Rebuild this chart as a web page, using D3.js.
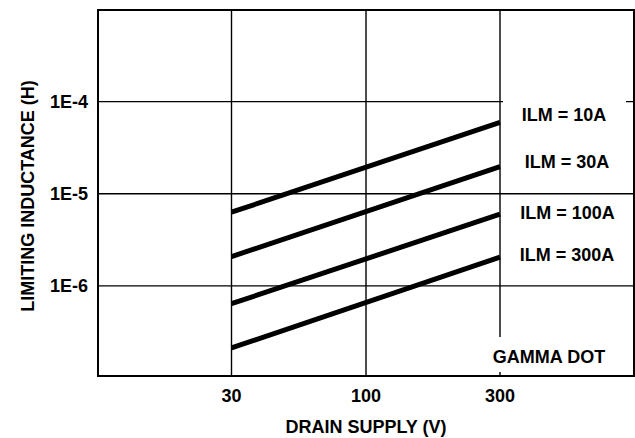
<!DOCTYPE html>
<html>
<head>
<meta charset="utf-8">
<script src="https://cdn.jsdelivr.net/npm/d3@7"></script>
<style>
  html, body { margin: 0; padding: 0; background: #fff; }
  svg { display: block; }
  text { font-family: "Liberation Sans", Arial, Helvetica, sans-serif; font-weight: bold; fill: #000; }
</style>
</head>
<body>
<svg id="chart" width="635" height="438"></svg>
<script>
// ---- data ----
const xTicks = [30, 100, 300];
const xTickLabels = ["30", "100", "300"];
const yTicks = [1e-4, 1e-5, 1e-6];
const yTickLabels = ["1E-4", "1E-5", "1E-6"];
const seriesNames = ["ILM = 10A", "ILM = 30A", "ILM = 100A", "ILM = 300A"];
const voltages = [30, 300];
const inductance10A = [6.3e-6, 5.95e-5];
const inductance30A = [2.08e-6, 1.97e-5];
const inductance100A = [6.4e-7, 6.0e-6];
const inductance300A = [2.12e-7, 2.05e-6];
const seriesValues = [inductance10A, inductance30A, inductance100A, inductance300A];
const xTitle = "DRAIN SUPPLY (V)";
const yTitle = "LIMITING INDUCTANCE (H)";
const note = "GAMMA DOT";

(function () {
// ---- layout ----
const svg = d3.select("#chart");
const pLeft = 98, pRight = 634, pTop = 10, pBottom = 376;

// equally spaced 1-3-10 decade axis (piecewise log)
const x = d3.scaleLog()
  .domain([10, 30, 100, 300, 1000])
  .range([pLeft, 231.5, 366, 500, pRight]);
const y = d3.scaleLog()
  .domain([1e-7, 1e-3])
  .range([378, 9.5]);

// grid
const grid = svg.append("g").attr("stroke", "#000").attr("stroke-width", 1.4);
grid.selectAll("line.v").data(xTicks).join("line")
  .attr("class", "v")
  .attr("x1", d => x(d)).attr("x2", d => x(d))
  .attr("y1", pTop).attr("y2", pBottom);
grid.selectAll("line.h").data(yTicks).join("line")
  .attr("class", "h")
  .attr("x1", pLeft).attr("x2", pRight)
  .attr("y1", d => y(d)).attr("y2", d => y(d));

// white label boxes
svg.append("rect").attr("x", 503).attr("y", 95).attr("width", 123).attr("height", 34).attr("fill", "#fff");
svg.append("rect").attr("x", 482).attr("y", 337).attr("width", 136).attr("height", 35).attr("fill", "#fff");

// data lines
const line = d3.line().x(d => x(d[0])).y(d => y(d[1]));
svg.append("g").selectAll("path").data(seriesValues).join("path")
  .attr("d", vals => line(voltages.map((v, i) => [v, vals[i]])))
  .attr("fill", "none").attr("stroke", "#000").attr("stroke-width", 5);

// frame
svg.append("rect")
  .attr("x", pLeft).attr("y", pTop)
  .attr("width", pRight - pLeft).attr("height", pBottom - pTop)
  .attr("fill", "none").attr("stroke", "#000").attr("stroke-width", 2);

// tick labels
svg.append("g").selectAll("text").data(xTicks).join("text")
  .attr("x", d => x(d)).attr("y", 402)
  .attr("text-anchor", "middle").attr("font-size", 18)
  .text((d, i) => xTickLabels[i]);
svg.append("g").selectAll("text").data(yTicks).join("text")
  .attr("x", 88).attr("y", d => y(d)).attr("dy", "0.35em")
  .attr("text-anchor", "end").attr("font-size", 18)
  .text((d, i) => yTickLabels[i]);

// titles
svg.append("text").attr("x", 366).attr("y", 433)
  .attr("text-anchor", "middle").attr("font-size", 18).text(xTitle);
svg.append("text").attr("transform", "translate(34,196) rotate(-90)")
  .attr("text-anchor", "middle").attr("font-size", 18).text(yTitle);

// series labels
const labelPos = [[564, 121], [567, 168], [567.5, 219], [567, 261]];
svg.append("g").selectAll("text").data(seriesNames).join("text")
  .attr("x", (d, i) => labelPos[i][0]).attr("y", (d, i) => labelPos[i][1])
  .attr("text-anchor", "middle").attr("font-size", 18)
  .text(d => d);

svg.append("text").attr("x", 549).attr("y", 363)
  .attr("text-anchor", "middle").attr("font-size", 18).text(note);
})();
</script>
</body>
</html>
